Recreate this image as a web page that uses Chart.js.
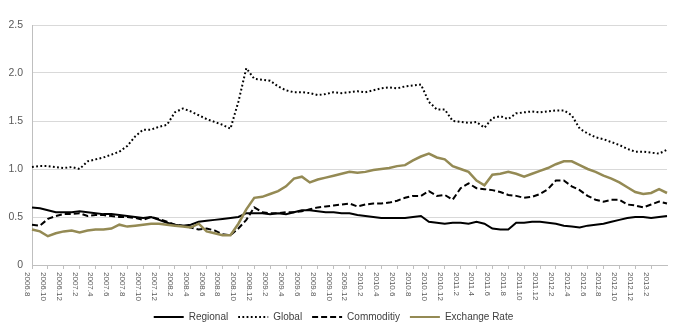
<!DOCTYPE html>
<html>
<head>
<meta charset="utf-8">
<script src="https://cdn.jsdelivr.net/npm/chart.js@4"></script>
<style>
  html, body { margin: 0; padding: 0; background: #fff; }
  #wrap { width: 674px; height: 328px; }
</style>
</head>
<body>
<div id="wrap"><canvas id="chart" width="674" height="328"></canvas></div>
<script>
// months, 2006.8 - 2013.4
const months = [
    '2006.8', '2006.9', '2006.10', '2006.11', '2006.12',
    '2007.1', '2007.2', '2007.3', '2007.4', '2007.5', '2007.6', '2007.7', '2007.8', '2007.9', '2007.10', '2007.11', '2007.12',
    '2008.1', '2008.2', '2008.3', '2008.4', '2008.5', '2008.6', '2008.7', '2008.8', '2008.9', '2008.10', '2008.11', '2008.12',
    '2009.1', '2009.2', '2009.3', '2009.4', '2009.5', '2009.6', '2009.7', '2009.8', '2009.9', '2009.10', '2009.11', '2009.12',
    '2010.1', '2010.2', '2010.3', '2010.4', '2010.5', '2010.6', '2010.7', '2010.8', '2010.9', '2010.10', '2010.11', '2010.12',
    '2011.1', '2011.2', '2011.3', '2011.4', '2011.5', '2011.6', '2011.7', '2011.8', '2011.9', '2011.10', '2011.11', '2011.12',
    '2012.1', '2012.2', '2012.3', '2012.4', '2012.5', '2012.6', '2012.7', '2012.8', '2012.9', '2012.10', '2012.11', '2012.12',
    '2013.1', '2013.2', '2013.3', '2013.4'
];

const regional = [
    0.60, 0.59, 0.57, 0.55, 0.55,
    0.55, 0.56, 0.55, 0.54, 0.53, 0.53, 0.52, 0.51, 0.50, 0.49, 0.50, 0.47,
    0.44, 0.42, 0.41, 0.42, 0.45, 0.46, 0.47, 0.48, 0.49, 0.50, 0.54, 0.54,
    0.54, 0.53, 0.54, 0.53, 0.55, 0.57, 0.57, 0.56, 0.55, 0.55, 0.54, 0.54,
    0.52, 0.51, 0.50, 0.49, 0.49, 0.49, 0.49, 0.50, 0.51, 0.45, 0.44, 0.43,
    0.44, 0.44, 0.43, 0.45, 0.43, 0.38, 0.37, 0.37, 0.44, 0.44, 0.45, 0.45,
    0.44, 0.43, 0.41, 0.40, 0.39, 0.41, 0.42, 0.43, 0.45, 0.47, 0.49, 0.50,
    0.50, 0.49, 0.50, 0.51
];

const global = [
    1.02, 1.03, 1.03, 1.02, 1.01,
    1.02, 1.00, 1.08, 1.10, 1.12, 1.15, 1.18, 1.24, 1.34, 1.41, 1.41, 1.44,
    1.46, 1.59, 1.63, 1.60, 1.56, 1.52, 1.49, 1.46, 1.42, 1.70, 2.05, 1.94,
    1.93, 1.92, 1.86, 1.82, 1.80, 1.80, 1.79, 1.77, 1.78, 1.80, 1.79, 1.80,
    1.81, 1.80, 1.82, 1.84, 1.85, 1.84, 1.86, 1.87, 1.88, 1.70, 1.62, 1.62,
    1.50, 1.49, 1.48, 1.49, 1.43, 1.53, 1.55, 1.52, 1.58, 1.59, 1.60, 1.59,
    1.60, 1.61, 1.61, 1.56, 1.42, 1.37, 1.33, 1.31, 1.28, 1.25, 1.21, 1.18,
    1.18, 1.17, 1.16, 1.20
];

const commodity = [
    0.42, 0.41, 0.48, 0.51, 0.53,
    0.53, 0.54, 0.51, 0.52, 0.52, 0.51, 0.50, 0.50, 0.49, 0.47, 0.50, 0.48,
    0.45, 0.42, 0.41, 0.39, 0.37, 0.38, 0.36, 0.32, 0.31, 0.38, 0.47, 0.60,
    0.55, 0.54, 0.54, 0.55, 0.55, 0.56, 0.58, 0.60, 0.61, 0.62, 0.63, 0.64,
    0.61, 0.63, 0.64, 0.64, 0.65, 0.67, 0.70, 0.72, 0.72, 0.77, 0.72, 0.73,
    0.68, 0.80, 0.85, 0.80, 0.79, 0.78, 0.76, 0.73, 0.72, 0.70, 0.71, 0.74,
    0.79, 0.88, 0.88, 0.82, 0.78, 0.72, 0.68, 0.66, 0.68, 0.68, 0.63, 0.62,
    0.60, 0.63, 0.66, 0.64
];

const exchangeRate = [
    0.37, 0.35, 0.30, 0.33, 0.35,
    0.36, 0.34, 0.36, 0.37, 0.37, 0.38, 0.42, 0.40, 0.41, 0.42, 0.43, 0.43,
    0.42, 0.41, 0.40, 0.39, 0.43, 0.35, 0.33, 0.31, 0.31, 0.43, 0.58, 0.70,
    0.71, 0.74, 0.77, 0.82, 0.90, 0.92, 0.86, 0.89, 0.91, 0.93, 0.95, 0.97,
    0.96, 0.97, 0.99, 1.00, 1.01, 1.03, 1.04, 1.09, 1.13, 1.16, 1.12, 1.10,
    1.03, 1.00, 0.97, 0.88, 0.83, 0.94, 0.95, 0.97, 0.95, 0.92, 0.95, 0.98,
    1.01, 1.05, 1.08, 1.08, 1.04, 1.00, 0.97, 0.93, 0.90, 0.86, 0.81, 0.76,
    0.74, 0.75, 0.79, 0.75
];

const FONT = "'Liberation Sans', Arial, sans-serif";

// Excel draws the x labels reading top to bottom; flip the rotated labels
const flipLabels = {
    id: 'flipLabels',
    beforeDraw(chart) {
        chart.scales.x.getLabelItems().forEach(it => {
            it.options.rotation = Math.PI / 2;
            it.options.textAlign = 'left';
            it.options.textBaseline = 'middle';
            it.textOffset = 0;
        });
    }
};

const ctx = document.getElementById('chart').getContext('2d');
new Chart(ctx, {
    type: 'line',
    data: {
        labels: months,
        datasets: [
            { label: 'Regional', data: regional, borderColor: '#000000', borderWidth: 2, order: 4 },
            { label: 'Global', data: global, borderColor: '#000000', borderWidth: 2, borderDash: [1.8, 2.4], order: 3 },
            { label: 'Commoditiy', data: commodity, borderColor: '#000000', borderWidth: 2, borderDash: [6, 3], order: 2 },
            { label: 'Exchange Rate', data: exchangeRate, borderColor: '#948A54', borderWidth: 2.5, order: 1 }
        ]
    },
    options: {
        responsive: false,
        animation: false,
        devicePixelRatio: 1,
        layout: { padding: { top: 25, right: 7, left: 0, bottom: -4 } },
        elements: {
            point: { radius: 0 },
            line: { tension: 0, fill: false, borderCapStyle: 'butt' }
        },
        plugins: {
            legend: {
                position: 'bottom',
                labels: {
                    usePointStyle: true,
                    pointStyle: 'line',
                    pointStyleWidth: 30,
                    padding: 10,
                    color: '#404040',
                    font: { family: FONT, size: 10 },
                    sort: (a, b) => a.datasetIndex - b.datasetIndex,
                    generateLabels: chart => Chart.defaults.plugins.legend.labels.generateLabels(chart).map(item => {
                        const ds = chart.data.datasets[item.datasetIndex];
                        item.lineDash = ds.borderDash || [];
                        item.lineWidth = 2;
                        item.strokeStyle = ds.borderColor;
                        return item;
                    })
                }
            },
            tooltip: { enabled: false }
        },
        scales: {
            x: {
                afterFit: s => { s.height = 37; },
                grid: { drawOnChartArea: false, tickLength: 4, color: '#BFBFBF' },
                border: { color: '#BFBFBF' },
                afterBuildTicks: s => {
                    s.ticks = s.ticks.filter(t => t.value % 2 === 0 && t.value <= 78);
                },
                ticks: {
                    autoSkip: false,
                    minRotation: 90,
                    maxRotation: 90,
                    padding: 3,
                    color: '#595959',
                    font: { family: FONT, size: 8 }
                }
            },
            y: {
                min: 0,
                max: 2.5,
                afterFit: s => { s.width = 32; },
                grid: { color: '#D9D9D9', drawTicks: false },
                border: { color: '#BFBFBF' },
                ticks: {
                    stepSize: 0.5,
                    padding: 9,
                    color: '#595959',
                    font: { family: FONT, size: 10.5 }
                }
            }
        }
    },
    plugins: [flipLabels]
});
</script>
</body>
</html>
